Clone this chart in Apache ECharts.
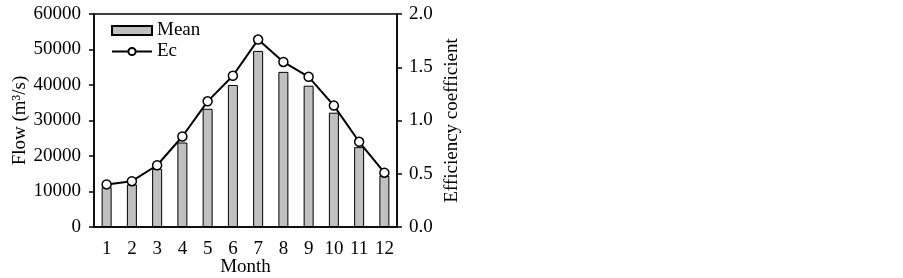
<!DOCTYPE html>
<html>
<head>
<meta charset="utf-8">
<script src="https://cdn.jsdelivr.net/npm/echarts@6/dist/echarts.min.js"></script>
<style>html,body{margin:0;padding:0;background:#fff;}#c{width:903px;height:278px;}</style>
</head>
<body>
<div id="c"></div>
<script>
var months = ['1','2','3','4','5','6','7','8','9','10','11','12'];
var meanFlow = [11200, 12000, 16400, 23800, 33300, 40000, 49600, 43700, 39800, 32200, 22500, 14400];
var ecValues = [0.40, 0.43, 0.58, 0.85, 1.18, 1.42, 1.76, 1.55, 1.41, 1.14, 0.80, 0.51];

var font = 'Liberation Serif, Times New Roman, serif';
var fs = 19;
var chart = echarts.init(document.getElementById('c'));
chart.setOption({
  animation: false,
  textStyle: {fontFamily: font},
  grid: {left: 94, right: 506, top: 14, bottom: 51, show: true, borderColor: '#000', borderWidth: 1.5, containLabel: false, outerBoundsMode: 'none'},
  legend: {
    orient: 'vertical', left: 111, top: 21, padding: 0, itemWidth: 40, itemHeight: 9, itemGap: 2,
    textStyle: {fontFamily: font, fontSize: fs, color: '#000'},
    data: [{name: 'Mean', icon: 'rect'}, {name: 'Ec'}]
  },
  xAxis: {
    type: 'category', data: months,
    name: 'Month', nameLocation: 'middle', nameGap: 31, nameMoveOverlap: false,
    nameTextStyle: {fontFamily: font, fontSize: fs, color: '#000'},
    axisLine: {lineStyle: {color: '#000', width: 1.5}},
    axisTick: {show: false},
    axisLabel: {fontFamily: font, fontSize: fs, color: '#000', margin: 13}
  },
  yAxis: [{
    type: 'value', min: 0, max: 60000, interval: 10000,
    name: 'Flow (m³/s)', nameLocation: 'middle', nameGap: 64, nameRotate: 90, nameMoveOverlap: false,
    nameTextStyle: {fontFamily: font, fontSize: fs, color: '#000'},
    axisLine: {show: true, lineStyle: {color: '#000', width: 1.5}},
    axisTick: {show: true, length: 5, lineStyle: {color: '#000', width: 1.5}},
    axisLabel: {fontFamily: font, fontSize: fs, color: '#000', margin: 13, formatter: function(v){return String(v);}},
    splitLine: {show: false}
  }, {
    type: 'value', min: 0, max: 2.0, interval: 0.5, position: 'right',
    name: 'Efficiency coefficient', nameLocation: 'middle', nameGap: 46, nameRotate: 90, nameMoveOverlap: false,
    nameTextStyle: {fontFamily: font, fontSize: fs, color: '#000'},
    axisLine: {show: true, lineStyle: {color: '#000', width: 1.5}},
    axisTick: {show: true, length: 5, lineStyle: {color: '#000', width: 1.5}},
    axisLabel: {fontFamily: font, fontSize: fs, color: '#000', margin: 12, formatter: function(v){return v.toFixed(1);}},
    splitLine: {show: false}
  }],
  series: [{
    name: 'Mean', type: 'bar', data: meanFlow, barWidth: 10, yAxisIndex: 0,
    itemStyle: {color: '#c0c0c0', borderColor: '#000', borderWidth: 1}
  }, {
    name: 'Ec', type: 'line', data: ecValues, yAxisIndex: 1,
    symbol: 'circle', symbolSize: 9,
    lineStyle: {color: '#000', width: 2},
    itemStyle: {color: '#fff', borderColor: '#000', borderWidth: 1.5}
  }]
});
</script>
</body>
</html>
